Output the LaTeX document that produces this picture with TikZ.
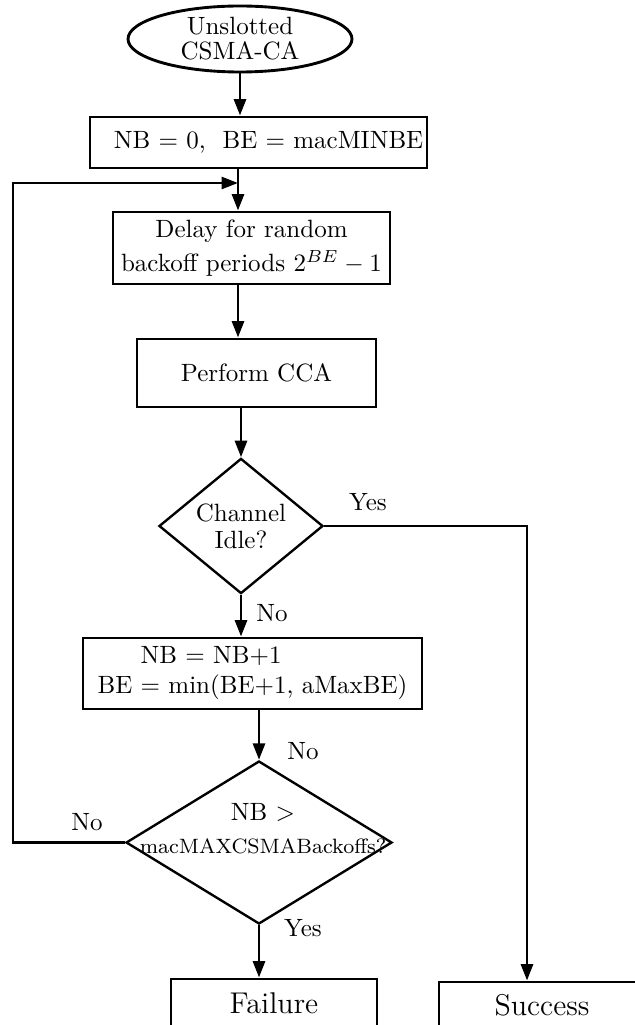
\documentclass[tikz,border=0pt]{standalone}
\usetikzlibrary{shapes.geometric,arrows.meta,calc}
\begin{document}
\begin{tikzpicture}[x=0.4pt,y=-0.4pt,
  line width=1.15pt,
  arr/.style={-{Triangle[length=6.6pt,width=4.8pt]}},
  box/.style={draw,rectangle,inner sep=1.5pt,align=center},
  dec/.style={draw,diamond,inner sep=0pt,align=center,line width=0.95pt},
  lbl/.style={inner sep=0pt}]
\useasboundingbox (0,0) rectangle (634,1025);

% process nodes
\node[draw,ellipse,minimum width=89.6pt,minimum height=26.4pt,inner sep=0pt,align=center]
  (start) at (240,39) {Unslotted\\[-2pt]CSMA-CA};
\node[box,minimum width=134.8pt,minimum height=20.4pt,text width=131.8pt,align=right]
  (init) at (258.5,142.5) {NB = 0,\ \ BE = macMINBE};
\node[box,minimum width=110.8pt,minimum height=28.8pt]
  (delay) at (251.5,248) {Delay for random\\[1.5pt]backoff periods $2^{BE}-1$};
\node[box,minimum width=95.6pt,minimum height=27.2pt]
  (cca) at (256.5,373) {Perform CCA};
\node[dec,minimum width=65.6pt,minimum height=52.4pt]
  (idle) at (241,526) {Channel\\[-1.2pt]Idle?};
\node[box,minimum width=135.6pt,minimum height=28.4pt,align=left]
  (nbinc) at (252.5,673.5) {\hspace*{17.2pt}NB = NB+1\\BE = min(BE+1, aMaxBE)};
% the wide condition text runs past the diamond, so it is set on its own
\node[dec,minimum width=106.4pt,minimum height=65.2pt]
  (maxb) at (259,842.5) {};
\node[align=center,inner sep=0pt]
  (maxbt) at (263,829) {NB $>$\\[1.2pt]{\fontsize{8.3pt}{10pt}\selectfont macMAXCSMABackoffs?}};
\node[box,font=\large,minimum width=82.4pt,minimum height=19.2pt]
  (fail) at (274,1003) {Failure};
\node[box,font=\large,minimum width=82.4pt,minimum height=18.4pt]
  (succ) at (542,1005) {Success};

% routing points
\coordinate (jn) at (238,183);
\coordinate (lc) at (13,183);
\coordinate (yc) at (527,525);

% connectors
\draw[arr] (start.south) -- (start.south |- init.north);
\draw[arr] (init.south -| jn) -- (jn |- delay.north);
\draw[arr] (delay.south -| jn) -- (jn |- cca.north);
\draw[arr] (cca.south -| idle.north) -- (idle.north);
\draw[arr] (idle.south) -- (idle.south |- nbinc.north);
\draw[arr] (nbinc.south -| maxb.north) -- (maxb.north);
\draw[arr] (maxb.south) -- (maxb.south |- fail.north);
\draw[arr] (idle.east) -| (yc |- succ.north);
\draw[arr] (maxb.west) -| (lc) -- (jn);

% branch labels
\node[lbl] (yes1) at (368,502) {Yes};
\node[lbl] (no1) at (272,613) {No};
\node[lbl] (no2) at (303,751) {No};
\node[lbl] (no3) at (87,822) {No};
\node[lbl] (yes2) at (303,928) {Yes};
\end{tikzpicture}
\end{document}
